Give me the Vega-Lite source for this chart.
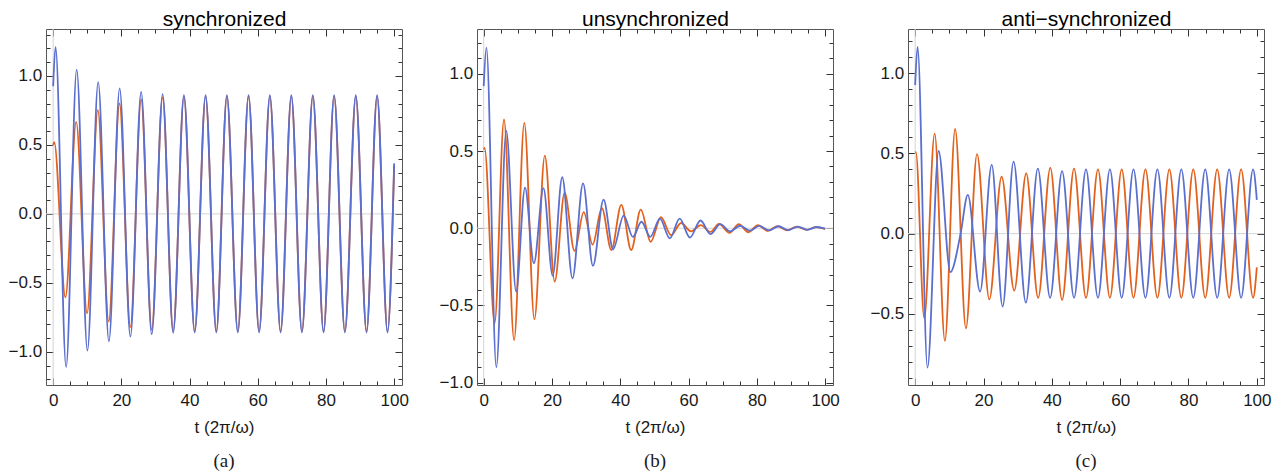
{
  "$schema": "https://vega.github.io/schema/vega-lite/v6.json",
  "background": "white",
  "padding": {"left": 8, "top": 8, "right": 5, "bottom": 5},
  "bounds": "flush",
  "spacing": 75,
  "config": {
    "view": {"stroke": null},
    "font": "Liberation Sans",
    "axis": {
      "grid": false,
      "labelFont": "Liberation Sans",
      "labelFontSize": 17,
      "labelColor": "#1a1a1a",
      "tickColor": "#333333",
      "tickWidth": 1,
      "domainColor": "#555555",
      "domainWidth": 1,
      "titleFont": "Liberation Sans",
      "titleFontWeight": "normal",
      "titleColor": "#1a1a1a",
      "labelOverlap": false,
      "labelFlush": false,
      "labelBound": false
    },
    "title": {"font": "Liberation Serif", "fontSize": 19, "fontWeight": "normal", "color": "#1a1a1a", "orient": "bottom", "anchor": "middle", "offset": 16}
  },
  "datasets": {
    "a": [
      {"t": 0, "v": 0.5, "series": "o"}, {"t": 0.3, "v": 0.52, "series": "o"}, {"t": 3.6, "v": -0.605, "series": "o"},
      {"t": 6.75, "v": 0.667, "series": "o"}, {"t": 9.95, "v": -0.72, "series": "o"}, {"t": 13.1, "v": 0.752, "series": "o"},
      {"t": 16.3, "v": -0.78, "series": "o"}, {"t": 19.45, "v": 0.8, "series": "o"}, {"t": 22.65, "v": -0.82, "series": "o"},
      {"t": 25.8, "v": 0.83, "series": "o"}, {"t": 28.9, "v": -0.84, "series": "o"}, {"t": 32.1, "v": 0.845, "series": "o"},
      {"t": 35.2, "v": -0.848, "series": "o"}, {"t": 38.35, "v": 0.85, "series": "o"}, {"t": 41.5, "v": -0.85, "series": "o"},
      {"t": 44.7, "v": 0.85, "series": "o"}, {"t": 47.85, "v": -0.85, "series": "o"}, {"t": 50.95, "v": 0.85, "series": "o"},
      {"t": 54.15, "v": -0.85, "series": "o"}, {"t": 57.3, "v": 0.85, "series": "o"}, {"t": 60.4, "v": -0.85, "series": "o"},
      {"t": 63.55, "v": 0.85, "series": "o"}, {"t": 66.7, "v": -0.85, "series": "o"}, {"t": 69.85, "v": 0.85, "series": "o"},
      {"t": 72.95, "v": -0.85, "series": "o"}, {"t": 76.15, "v": 0.85, "series": "o"}, {"t": 79.3, "v": -0.85, "series": "o"},
      {"t": 82.4, "v": 0.85, "series": "o"}, {"t": 85.55, "v": -0.85, "series": "o"}, {"t": 88.75, "v": 0.85, "series": "o"},
      {"t": 91.9, "v": -0.85, "series": "o"}, {"t": 95.0, "v": 0.85, "series": "o"}, {"t": 98.05, "v": -0.85, "series": "o"},
      {"t": 100, "v": 0.35, "series": "o"},
      {"t": 0, "v": 0.925, "series": "b"}, {"t": 0.7, "v": 1.21, "series": "b"}, {"t": 3.8, "v": -1.11, "series": "b"},
      {"t": 6.9, "v": 1.045, "series": "b"}, {"t": 10.05, "v": -0.99, "series": "b"}, {"t": 13.2, "v": 0.955, "series": "b"},
      {"t": 16.35, "v": -0.923, "series": "b"}, {"t": 19.5, "v": 0.91, "series": "b"}, {"t": 22.65, "v": -0.89, "series": "b"},
      {"t": 25.8, "v": 0.885, "series": "b"}, {"t": 28.9, "v": -0.872, "series": "b"}, {"t": 32.1, "v": 0.868, "series": "b"},
      {"t": 35.2, "v": -0.862, "series": "b"}, {"t": 38.35, "v": 0.86, "series": "b"}, {"t": 41.5, "v": -0.86, "series": "b"},
      {"t": 44.7, "v": 0.86, "series": "b"}, {"t": 47.85, "v": -0.86, "series": "b"}, {"t": 50.95, "v": 0.86, "series": "b"},
      {"t": 54.15, "v": -0.86, "series": "b"}, {"t": 57.3, "v": 0.86, "series": "b"}, {"t": 60.4, "v": -0.86, "series": "b"},
      {"t": 63.55, "v": 0.86, "series": "b"}, {"t": 66.7, "v": -0.86, "series": "b"}, {"t": 69.85, "v": 0.86, "series": "b"},
      {"t": 72.95, "v": -0.86, "series": "b"}, {"t": 76.15, "v": 0.86, "series": "b"}, {"t": 79.3, "v": -0.86, "series": "b"},
      {"t": 82.4, "v": 0.86, "series": "b"}, {"t": 85.55, "v": -0.86, "series": "b"}, {"t": 88.75, "v": 0.86, "series": "b"},
      {"t": 91.9, "v": -0.86, "series": "b"}, {"t": 95.0, "v": 0.86, "series": "b"}, {"t": 98.05, "v": -0.86, "series": "b"},
      {"t": 100, "v": 0.366, "series": "b"}
    ],
    "b": [
      {"t": 0, "v": 0.51, "series": "o"}, {"t": 0.25, "v": 0.52, "series": "o"}, {"t": 3.2, "v": -0.616, "series": "o"},
      {"t": 5.95, "v": 0.704, "series": "o"}, {"t": 8.9, "v": -0.724, "series": "o"}, {"t": 11.9, "v": 0.682, "series": "o"},
      {"t": 14.85, "v": -0.59, "series": "o"}, {"t": 17.9, "v": 0.47, "series": "o"}, {"t": 20.8, "v": -0.346, "series": "o"},
      {"t": 23.7, "v": 0.23, "series": "o"}, {"t": 26.6, "v": -0.147, "series": "o"}, {"t": 29.3, "v": 0.104, "series": "o"},
      {"t": 31.9, "v": -0.106, "series": "o"}, {"t": 34.6, "v": 0.13, "series": "o"}, {"t": 37.4, "v": -0.141, "series": "o"},
      {"t": 40.3, "v": 0.151, "series": "o"}, {"t": 43.2, "v": -0.141, "series": "o"}, {"t": 46.0, "v": 0.12, "series": "o"},
      {"t": 48.9, "v": -0.088, "series": "o"}, {"t": 51.9, "v": 0.071, "series": "o"}, {"t": 54.9, "v": -0.045, "series": "o"},
      {"t": 57.8, "v": 0.034, "series": "o"}, {"t": 60.7, "v": -0.02, "series": "o"}, {"t": 63.6, "v": 0.02, "series": "o"},
      {"t": 66.4, "v": -0.024, "series": "o"}, {"t": 68.9, "v": 0.028, "series": "o"}, {"t": 72.0, "v": -0.03, "series": "o"},
      {"t": 74.7, "v": 0.027, "series": "o"}, {"t": 77.5, "v": -0.026, "series": "o"}, {"t": 80.3, "v": 0.02, "series": "o"},
      {"t": 83.2, "v": -0.017, "series": "o"}, {"t": 86.0, "v": 0.014, "series": "o"}, {"t": 88.9, "v": -0.013, "series": "o"},
      {"t": 91.7, "v": 0.01, "series": "o"}, {"t": 94.6, "v": -0.01, "series": "o"}, {"t": 97.3, "v": 0.007, "series": "o"},
      {"t": 100, "v": -0.006, "series": "o"},
      {"t": 0, "v": 0.92, "series": "b"}, {"t": 0.8, "v": 1.17, "series": "b"}, {"t": 3.7, "v": -0.9, "series": "b"},
      {"t": 6.6, "v": 0.63, "series": "b"}, {"t": 9.5, "v": -0.41, "series": "b"}, {"t": 12.1, "v": 0.263, "series": "b"},
      {"t": 14.7, "v": -0.227, "series": "b"}, {"t": 17.5, "v": 0.26, "series": "b"}, {"t": 20.2, "v": -0.307, "series": "b"},
      {"t": 23.0, "v": 0.33, "series": "b"}, {"t": 26.0, "v": -0.324, "series": "b"}, {"t": 29.1, "v": 0.29, "series": "b"},
      {"t": 32.0, "v": -0.244, "series": "b"}, {"t": 35.1, "v": 0.185, "series": "b"}, {"t": 37.9, "v": -0.136, "series": "b"},
      {"t": 41.0, "v": 0.082, "series": "b"}, {"t": 43.7, "v": -0.056, "series": "b"}, {"t": 46.2, "v": 0.042, "series": "b"},
      {"t": 48.8, "v": -0.056, "series": "b"}, {"t": 51.6, "v": 0.062, "series": "b"}, {"t": 54.5, "v": -0.065, "series": "b"},
      {"t": 57.4, "v": 0.062, "series": "b"}, {"t": 60.4, "v": -0.06, "series": "b"}, {"t": 63.5, "v": 0.05, "series": "b"},
      {"t": 66.4, "v": -0.038, "series": "b"}, {"t": 69.3, "v": 0.026, "series": "b"}, {"t": 72.2, "v": -0.02, "series": "b"},
      {"t": 75.1, "v": 0.016, "series": "b"}, {"t": 78.0, "v": -0.016, "series": "b"}, {"t": 80.7, "v": 0.015, "series": "b"},
      {"t": 83.6, "v": -0.014, "series": "b"}, {"t": 86.4, "v": 0.013, "series": "b"}, {"t": 89.2, "v": -0.012, "series": "b"},
      {"t": 92.0, "v": 0.011, "series": "b"}, {"t": 94.8, "v": -0.01, "series": "b"}, {"t": 97.6, "v": 0.008, "series": "b"},
      {"t": 100, "v": -0.002, "series": "b"}
    ],
    "c": [
      {"t": 0, "v": 0.505, "series": "o"}, {"t": 0.2, "v": 0.507, "series": "o"}, {"t": 2.65, "v": -0.527, "series": "o"},
      {"t": 5.7, "v": 0.623, "series": "o"}, {"t": 8.7, "v": -0.668, "series": "o"}, {"t": 11.7, "v": 0.652, "series": "o"},
      {"t": 14.85, "v": -0.59, "series": "o"}, {"t": 18.1, "v": 0.495, "series": "o"}, {"t": 21.7, "v": -0.41, "series": "o"},
      {"t": 25.3, "v": 0.355, "series": "o"}, {"t": 29.0, "v": -0.355, "series": "o"}, {"t": 32.5, "v": 0.376, "series": "o"},
      {"t": 36.0, "v": -0.4, "series": "o"}, {"t": 39.55, "v": 0.41, "series": "o"}, {"t": 43.0, "v": -0.413, "series": "o"},
      {"t": 46.5, "v": 0.405, "series": "o"}, {"t": 50.0, "v": -0.4, "series": "o"}, {"t": 53.5, "v": 0.4, "series": "o"},
      {"t": 57.0, "v": -0.4, "series": "o"}, {"t": 60.45, "v": 0.4, "series": "o"}, {"t": 63.9, "v": -0.4, "series": "o"},
      {"t": 67.4, "v": 0.4, "series": "o"}, {"t": 70.9, "v": -0.4, "series": "o"}, {"t": 74.4, "v": 0.4, "series": "o"},
      {"t": 77.9, "v": -0.4, "series": "o"}, {"t": 81.4, "v": 0.4, "series": "o"}, {"t": 84.9, "v": -0.4, "series": "o"},
      {"t": 88.4, "v": 0.4, "series": "o"}, {"t": 91.9, "v": -0.4, "series": "o"}, {"t": 95.4, "v": 0.4, "series": "o"},
      {"t": 98.9, "v": -0.4, "series": "o"}, {"t": 100, "v": -0.21, "series": "o"},
      {"t": 0, "v": 0.926, "series": "b"}, {"t": 0.7, "v": 1.163, "series": "b"}, {"t": 3.6, "v": -0.835, "series": "b"},
      {"t": 6.85, "v": 0.515, "series": "b"}, {"t": 10.3, "v": -0.24, "series": "b"}, {"t": 13.3, "v": 0.0, "series": "b"},
      {"t": 15.4, "v": 0.241, "series": "b"},
      {"t": 19.0, "v": -0.361, "series": "b"}, {"t": 22.4, "v": 0.428, "series": "b"}, {"t": 25.6, "v": -0.455, "series": "b"},
      {"t": 28.8, "v": 0.449, "series": "b"}, {"t": 32.4, "v": -0.43, "series": "b"}, {"t": 35.9, "v": 0.405, "series": "b"},
      {"t": 39.5, "v": -0.4, "series": "b"}, {"t": 43.0, "v": 0.39, "series": "b"}, {"t": 46.5, "v": -0.4, "series": "b"},
      {"t": 50.0, "v": 0.4, "series": "b"}, {"t": 53.5, "v": -0.4, "series": "b"}, {"t": 57.0, "v": 0.4, "series": "b"},
      {"t": 60.45, "v": -0.4, "series": "b"}, {"t": 63.9, "v": 0.4, "series": "b"}, {"t": 67.4, "v": -0.4, "series": "b"},
      {"t": 70.9, "v": 0.4, "series": "b"}, {"t": 74.4, "v": -0.4, "series": "b"}, {"t": 77.9, "v": 0.4, "series": "b"},
      {"t": 81.4, "v": -0.4, "series": "b"}, {"t": 84.9, "v": 0.4, "series": "b"}, {"t": 88.4, "v": -0.4, "series": "b"},
      {"t": 91.9, "v": 0.4, "series": "b"}, {"t": 95.4, "v": -0.4, "series": "b"}, {"t": 98.9, "v": 0.4, "series": "b"},
      {"t": 100, "v": 0.21, "series": "b"}
    ]
  },
  "hconcat": [
    {
      "width": 356, "height": 356,
      "title": {"text": "(a)"},
      "resolve": {"axis": {"x": "independent", "y": "independent"}},
      "layer": [
        {"data": {"values": [{}]}, "mark": {"type": "rule", "color": "#d4d4d4", "strokeWidth": 1},
         "encoding": {"y": {"datum": 0, "type": "quantitative", "axis": null, "scale": {"domain": [-1.24, 1.34], "nice": false, "zero": false}}}},
        {"data": {"values": [{}]}, "mark": {"type": "rule", "color": "#d4d4d4", "strokeWidth": 1},
         "encoding": {"x": {"datum": 0, "type": "quantitative", "axis": null, "scale": {"domain": [-2.1, 102.3], "nice": false, "zero": false}}}},
        {"data": {"name": "a"}, "transform": [{"filter": "datum.series == 'o'"}],
         "mark": {"type": "line", "interpolate": "monotone", "color": "#e2611c", "strokeWidth": 1.8},
         "encoding": {
           "x": {"field": "t", "type": "quantitative", "scale": {"domain": [-2.1, 102.3], "nice": false, "zero": false},
             "axis": {"orient": "bottom", "values": [0,5,10,15,20,25,30,35,40,45,50,55,60,65,70,75,80,85,90,95,100], "format": "d",
               "labelExpr": "datum.value % 20 === 0 ? datum.label : ''",
               "tickSize": {"condition": {"test": "datum.value % 20 === 0", "value": -7}, "value": -4},
               "labelPadding": 14.7, "title": "t (2π/ω)", "titleFontSize": 17, "titlePadding": 8}},
           "y": {"field": "v", "type": "quantitative", "scale": {"domain": [-1.24, 1.34], "nice": false, "zero": false},
             "axis": {"orient": "left", "values": [-1.2,-1.1,-1,-0.9,-0.8,-0.7,-0.6,-0.5,-0.4,-0.3,-0.2,-0.1,0,0.1,0.2,0.3,0.4,0.5,0.6,0.7,0.8,0.9,1,1.1,1.2,1.3], "format": ".1f",
               "labelExpr": "abs(round(datum.value*10)) % 5 === 0 ? datum.label : ''",
               "tickSize": {"condition": {"test": "abs(round(datum.value*10)) % 5 === 0", "value": -7}, "value": -4},
               "labelPadding": 11.4, "title": null}}
         }},
        {"data": {"name": "a"}, "transform": [{"filter": "datum.series == 'b'"}],
         "mark": {"type": "line", "interpolate": "monotone", "color": "#5b6fce", "strokeWidth": 1.8},
         "encoding": {
           "x": {"field": "t", "type": "quantitative", "scale": {"domain": [-2.1, 102.3], "nice": false, "zero": false},
             "axis": {"orient": "top", "values": [0,5,10,15,20,25,30,35,40,45,50,55,60,65,70,75,80,85,90,95,100],
               "labels": false,
               "tickSize": {"condition": {"test": "datum.value % 20 === 0", "value": -7}, "value": -4},
               "title": "synchronized", "titleFontSize": 21, "titleColor": "black", "titleBaseline": "alphabetic", "titlePadding": 3}},
           "y": {"field": "v", "type": "quantitative", "scale": {"domain": [-1.24, 1.34], "nice": false, "zero": false},
             "axis": {"orient": "right", "values": [-1.2,-1.1,-1,-0.9,-0.8,-0.7,-0.6,-0.5,-0.4,-0.3,-0.2,-0.1,0,0.1,0.2,0.3,0.4,0.5,0.6,0.7,0.8,0.9,1,1.1,1.2,1.3],
               "labels": false,
               "tickSize": {"condition": {"test": "abs(round(datum.value*10)) % 5 === 0", "value": -7}, "value": -4},
               "title": null}}
         }}
      ]
    },
    {
      "width": 356, "height": 356,
      "title": {"text": "(b)"},
      "resolve": {"axis": {"x": "independent", "y": "independent"}},
      "layer": [
        {"data": {"values": [{}]}, "mark": {"type": "rule", "color": "#d4d4d4", "strokeWidth": 1},
         "encoding": {"y": {"datum": 0, "type": "quantitative", "axis": null, "scale": {"domain": [-1.015, 1.29], "nice": false, "zero": false}}}},
        {"data": {"values": [{}]}, "mark": {"type": "rule", "color": "#d4d4d4", "strokeWidth": 1},
         "encoding": {"x": {"datum": 0, "type": "quantitative", "axis": null, "scale": {"domain": [-1.96, 102.3], "nice": false, "zero": false}}}},
        {"data": {"name": "b"}, "transform": [{"filter": "datum.series == 'o'"}],
         "mark": {"type": "line", "interpolate": "monotone", "color": "#e2611c", "strokeWidth": 1.8},
         "encoding": {
           "x": {"field": "t", "type": "quantitative", "scale": {"domain": [-1.96, 102.3], "nice": false, "zero": false},
             "axis": {"orient": "bottom", "values": [0,5,10,15,20,25,30,35,40,45,50,55,60,65,70,75,80,85,90,95,100], "format": "d",
               "labelExpr": "datum.value % 20 === 0 ? datum.label : ''",
               "tickSize": {"condition": {"test": "datum.value % 20 === 0", "value": -7}, "value": -4},
               "labelPadding": 14.7, "title": "t (2π/ω)", "titleFontSize": 17, "titlePadding": 8}},
           "y": {"field": "v", "type": "quantitative", "scale": {"domain": [-1.015, 1.29], "nice": false, "zero": false},
             "axis": {"orient": "left", "values": [-1,-0.9,-0.8,-0.7,-0.6,-0.5,-0.4,-0.3,-0.2,-0.1,0,0.1,0.2,0.3,0.4,0.5,0.6,0.7,0.8,0.9,1,1.1,1.2], "format": ".1f",
               "labelExpr": "abs(round(datum.value*10)) % 5 === 0 ? datum.label : ''",
               "tickSize": {"condition": {"test": "abs(round(datum.value*10)) % 5 === 0", "value": -7}, "value": -4},
               "labelPadding": 11.4, "title": null}}
         }},
        {"data": {"name": "b"}, "transform": [{"filter": "datum.series == 'b'"}],
         "mark": {"type": "line", "interpolate": "monotone", "color": "#5b6fce", "strokeWidth": 1.8},
         "encoding": {
           "x": {"field": "t", "type": "quantitative", "scale": {"domain": [-1.96, 102.3], "nice": false, "zero": false},
             "axis": {"orient": "top", "values": [0,5,10,15,20,25,30,35,40,45,50,55,60,65,70,75,80,85,90,95,100],
               "labels": false,
               "tickSize": {"condition": {"test": "datum.value % 20 === 0", "value": -7}, "value": -4},
               "title": "unsynchronized", "titleFontSize": 21, "titleColor": "black", "titleBaseline": "alphabetic", "titlePadding": 3}},
           "y": {"field": "v", "type": "quantitative", "scale": {"domain": [-1.015, 1.29], "nice": false, "zero": false},
             "axis": {"orient": "right", "values": [-1,-0.9,-0.8,-0.7,-0.6,-0.5,-0.4,-0.3,-0.2,-0.1,0,0.1,0.2,0.3,0.4,0.5,0.6,0.7,0.8,0.9,1,1.1,1.2],
               "labels": false,
               "tickSize": {"condition": {"test": "abs(round(datum.value*10)) % 5 === 0", "value": -7}, "value": -4},
               "title": null}}
         }}
      ]
    },
    {
      "width": 356, "height": 356,
      "title": {"text": "(c)"},
      "resolve": {"axis": {"x": "independent", "y": "independent"}},
      "layer": [
        {"data": {"values": [{}]}, "mark": {"type": "rule", "color": "#d4d4d4", "strokeWidth": 1},
         "encoding": {"y": {"datum": 0, "type": "quantitative", "axis": null, "scale": {"domain": [-0.943, 1.275], "nice": false, "zero": false}}}},
        {"data": {"values": [{}]}, "mark": {"type": "rule", "color": "#d4d4d4", "strokeWidth": 1},
         "encoding": {"x": {"datum": 0, "type": "quantitative", "axis": null, "scale": {"domain": [-2.1, 102.1], "nice": false, "zero": false}}}},
        {"data": {"name": "c"}, "transform": [{"filter": "datum.series == 'o'"}],
         "mark": {"type": "line", "interpolate": "monotone", "color": "#e2611c", "strokeWidth": 1.8},
         "encoding": {
           "x": {"field": "t", "type": "quantitative", "scale": {"domain": [-2.1, 102.1], "nice": false, "zero": false},
             "axis": {"orient": "bottom", "values": [0,5,10,15,20,25,30,35,40,45,50,55,60,65,70,75,80,85,90,95,100], "format": "d",
               "labelExpr": "datum.value % 20 === 0 ? datum.label : ''",
               "tickSize": {"condition": {"test": "datum.value % 20 === 0", "value": -7}, "value": -4},
               "labelPadding": 14.7, "title": "t (2π/ω)", "titleFontSize": 17, "titlePadding": 8}},
           "y": {"field": "v", "type": "quantitative", "scale": {"domain": [-0.943, 1.275], "nice": false, "zero": false},
             "axis": {"orient": "left", "values": [-0.9,-0.8,-0.7,-0.6,-0.5,-0.4,-0.3,-0.2,-0.1,0,0.1,0.2,0.3,0.4,0.5,0.6,0.7,0.8,0.9,1,1.1,1.2], "format": ".1f",
               "labelExpr": "abs(round(datum.value*10)) % 5 === 0 ? datum.label : ''",
               "tickSize": {"condition": {"test": "abs(round(datum.value*10)) % 5 === 0", "value": -7}, "value": -4},
               "labelPadding": 11.4, "title": null}}
         }},
        {"data": {"name": "c"}, "transform": [{"filter": "datum.series == 'b'"}],
         "mark": {"type": "line", "interpolate": "monotone", "color": "#5b6fce", "strokeWidth": 1.8},
         "encoding": {
           "x": {"field": "t", "type": "quantitative", "scale": {"domain": [-2.1, 102.1], "nice": false, "zero": false},
             "axis": {"orient": "top", "values": [0,5,10,15,20,25,30,35,40,45,50,55,60,65,70,75,80,85,90,95,100],
               "labels": false,
               "tickSize": {"condition": {"test": "datum.value % 20 === 0", "value": -7}, "value": -4},
               "title": "anti−synchronized", "titleFontSize": 21, "titleColor": "black", "titleBaseline": "alphabetic", "titlePadding": 3}},
           "y": {"field": "v", "type": "quantitative", "scale": {"domain": [-0.943, 1.275], "nice": false, "zero": false},
             "axis": {"orient": "right", "values": [-0.9,-0.8,-0.7,-0.6,-0.5,-0.4,-0.3,-0.2,-0.1,0,0.1,0.2,0.3,0.4,0.5,0.6,0.7,0.8,0.9,1,1.1,1.2],
               "labels": false,
               "tickSize": {"condition": {"test": "abs(round(datum.value*10)) % 5 === 0", "value": -7}, "value": -4},
               "title": null}}
         }}
      ]
    }
  ]
}
